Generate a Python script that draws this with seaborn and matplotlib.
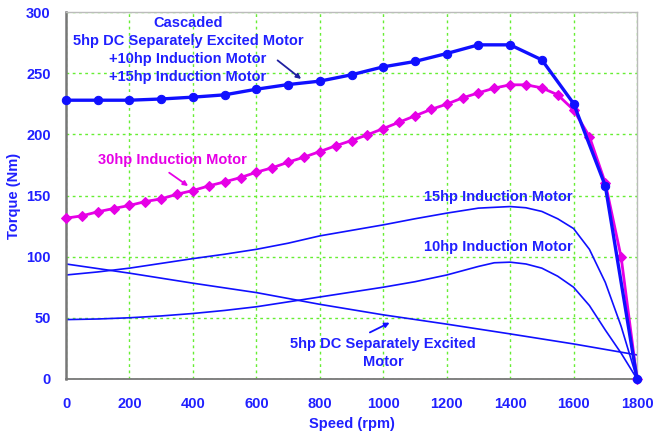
import matplotlib
matplotlib.use("Agg")
import matplotlib.pyplot as plt
import seaborn as sns

# ---- data ----
casc_speed = [0, 100, 200, 300, 400, 500, 600, 700, 800, 900, 1000, 1100, 1200,
              1300, 1400, 1500, 1600, 1700, 1800]
casc_torque = [228, 228, 228, 229, 230.5, 232.4, 237, 240.8, 243.6, 248.8, 255.3,
               259.7, 266.2, 273.3, 273.3, 261, 225.3, 158, 0]

im30_speed = [0, 50, 100, 150, 200, 250, 300, 350, 400, 450, 500, 550, 600, 650,
              700, 750, 800, 850, 900, 950, 1000, 1050, 1100, 1150, 1200, 1250,
              1300, 1350, 1400, 1450, 1500, 1550, 1600, 1650, 1700, 1750, 1800]
im30_torque = [131.5, 133.4, 136.7, 139.4, 141.9, 145.1, 147.3, 151.1, 154.1, 157.9,
               161.2, 164.7, 169.1, 172.7, 177.3, 181.4, 186.0, 190.7, 195.0, 199.7,
               204.8, 210.0, 215.2, 220.4, 224.8, 229.9, 234.0, 237.9, 240.6, 240.6,
               238.1, 232.4, 220.1, 198.3, 160.4, 99.6, 0]

im15_speed = [0, 100, 200, 300, 400, 500, 600, 700, 800, 900, 1000, 1100, 1200,
              1300, 1400, 1450, 1500, 1550, 1600, 1650, 1700, 1750, 1800]
im15_torque = [85, 87.5, 90.6, 94.5, 98.4, 102, 106, 111, 117, 121.5, 126, 131,
               135.6, 139.7, 141, 140, 137, 131, 123, 106, 79, 43, 0]

im10_speed = [0, 100, 200, 300, 400, 500, 600, 700, 800, 900, 1000, 1100, 1200,
              1300, 1350, 1400, 1450, 1500, 1550, 1600, 1650, 1700, 1750, 1800]
im10_torque = [48.5, 49, 50, 51.5, 53.5, 56, 59, 63, 67, 71, 75, 79.5, 85,
               92, 95, 95.5, 94, 90.6, 84, 75, 60, 40, 21, 0]

dc5_speed = [0, 200, 400, 600, 800, 1000, 1200, 1400, 1600, 1800]
dc5_torque = [94, 86.5, 78.3, 70.6, 61, 52.4, 44.8, 36.8, 28.6, 19.6]

x_ticks = [0, 200, 400, 600, 800, 1000, 1200, 1400, 1600, 1800]
y_ticks = [0, 50, 100, 150, 200, 250, 300]

# ---- style ----
sns.set_style("white")
plt.rcParams['font.family'] = ['Liberation Sans', 'DejaVu Sans']
BLUE = "#1010ff"
MAG = "#e600e6"
TXT = "#2020ff"

fig = plt.figure(figsize=(6.54, 4.36), dpi=100)
ax = fig.add_axes([0.101, 0.131, 0.873, 0.841])

thin = dict(color=BLUE, linewidth=1.2)
sns.lineplot(x=im15_speed, y=im15_torque, ax=ax, **thin)
sns.lineplot(x=im10_speed, y=im10_torque, ax=ax, **thin)
sns.lineplot(x=dc5_speed, y=dc5_torque, ax=ax, **thin)
sns.lineplot(x=im30_speed, y=im30_torque, ax=ax, color=MAG, linewidth=2.0,
             marker="D", markersize=5, markeredgecolor=MAG, clip_on=False, zorder=4)
sns.lineplot(x=casc_speed, y=casc_torque, ax=ax, color=BLUE, linewidth=2.4,
             marker="o", markersize=6, markeredgecolor=BLUE, clip_on=False, zorder=5)

ax.set_xlim(0, 1800)
ax.set_ylim(0, 300)
ax.set_xticks(x_ticks)
ax.set_yticks(y_ticks)
ax.grid(True, color="#66ee33", linestyle=(0, (2, 2.5)), linewidth=1.0)
ax.set_axisbelow(True)

for side in ["top", "right"]:
    ax.spines[side].set_color("#bbbbbb")
    ax.spines[side].set_linewidth(1.0)
ax.spines["left"].set_color("#777777")
ax.spines["left"].set_linewidth(1.8)
ax.spines["bottom"].set_color("#777777")
ax.spines["bottom"].set_linewidth(1.3)

ax.tick_params(axis="both", direction="out", length=5, width=1.2, color="#777777",
               labelcolor=TXT, labelsize=10.5)
for lab in ax.get_xticklabels() + ax.get_yticklabels():
    lab.set_fontweight("bold")
ax.tick_params(axis="x", pad=8)
ax.tick_params(axis="y", pad=6)

ax.set_xlabel("Speed (rpm)", color=TXT, fontsize=10.5, fontweight="bold")
ax.set_ylabel("Torque (Nm)", color=TXT, fontsize=10.5, fontweight="bold")
ax.xaxis.set_label_coords(0.5, -0.105)
ax.yaxis.set_label_coords(-0.079, 0.5)

tk = dict(color=TXT, fontsize=10.5, fontweight="bold", ha="center")
ax.text(384, 297, "Cascaded\n5hp DC Separately Excited Motor\n+10hp Induction Motor\n+15hp Induction Motor",
        va="top", linespacing=1.38, **tk)
ax.annotate("", xy=(748, 244), xytext=(660, 262),
            arrowprops=dict(arrowstyle="-|>", color="#2020a0", lw=1.3, mutation_scale=7))
ax.text(334, 179, "30hp Induction Motor", va="center", **{**tk, "color": MAG})
ax.annotate("", xy=(392, 156.5), xytext=(318, 170),
            arrowprops=dict(arrowstyle="-|>", color=MAG, lw=1.3, mutation_scale=7))
ax.text(1363, 149, "15hp Induction Motor", va="center", **tk)
ax.text(1363, 107.5, "10hp Induction Motor", va="center", **tk)
ax.text(1000, 21, "5hp DC Separately Excited\nMotor", va="center", linespacing=1.35, **tk)
ax.annotate("", xy=(1028, 47), xytext=(950, 37),
            arrowprops=dict(arrowstyle="-|>", color=BLUE, lw=1.3, mutation_scale=7))

fig.savefig("out.png", dpi=100)
